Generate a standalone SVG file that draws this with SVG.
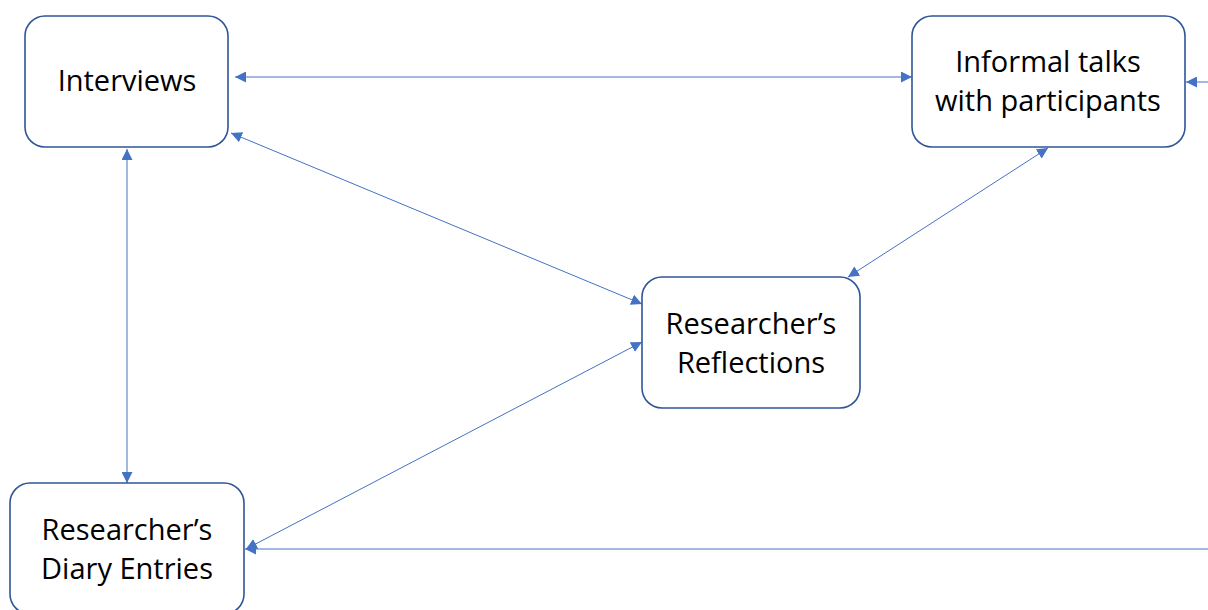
<svg xmlns="http://www.w3.org/2000/svg" width="1208" height="610" viewBox="0 0 1208 610">
  <style>
    .box { fill: #ffffff; stroke: #2f5597; stroke-width: 1.6; }
    .lbl { font-family: "Open Sans", "Liberation Sans", sans-serif; font-size: 29px; fill: #000000; text-anchor: middle; }
    .link { fill: none; stroke: #4472c4; stroke-width: 1; marker-end: url(#ah); }
    .link2 { marker-start: url(#ahs); }
  </style>
  <defs>
    <marker id="ah" viewBox="0 0 10 10" refX="10" refY="5" markerWidth="11" markerHeight="11" markerUnits="userSpaceOnUse" orient="auto">
      <path d="M0,0 L10,5 L0,10 Z" fill="#4472c4"/>
    </marker>
    <marker id="ahs" viewBox="0 0 10 10" refX="0" refY="5" markerWidth="11" markerHeight="11" markerUnits="userSpaceOnUse" orient="auto">
      <path d="M10,0 L0,5 L10,10 Z" fill="#4472c4"/>
    </marker>
  </defs>
  <rect width="1208" height="610" fill="#ffffff"/>

  <g id="connectors">
    <line class="link link2" x1="235" y1="77" x2="912" y2="77"/>
    <line class="link" x1="1210" y1="82" x2="1186" y2="82"/>
    <line class="link link2" x1="231" y1="133" x2="642" y2="304"/>
    <line class="link link2" x1="1048" y1="148" x2="848" y2="277"/>
    <line class="link link2" x1="127" y1="149" x2="127" y2="483"/>
    <line class="link link2" x1="642" y1="342" x2="246" y2="549"/>
    <line class="link" x1="1210" y1="549" x2="245" y2="549"/>
  </g>

  <g id="interviews">
    <rect class="box" x="25" y="16" width="203" height="131" rx="20"/>
    <text class="lbl" x="127" y="91">Interviews</text>
  </g>

  <g id="informal-talks">
    <rect class="box" x="912" y="16" width="273" height="131" rx="20"/>
    <text class="lbl" x="1048" y="72">Informal talks</text>
    <text class="lbl" x="1048" y="111">with participants</text>
  </g>

  <g id="reflections">
    <rect class="box" x="642" y="277" width="218" height="131" rx="20"/>
    <text class="lbl" x="751" y="334">Researcher’s</text>
    <text class="lbl" x="751" y="373">Reflections</text>
  </g>

  <g id="diary-entries">
    <rect class="box" x="10" y="483" width="234" height="131" rx="20"/>
    <text class="lbl" x="127" y="540">Researcher’s</text>
    <text class="lbl" x="127" y="579">Diary Entries</text>
  </g>
</svg>
